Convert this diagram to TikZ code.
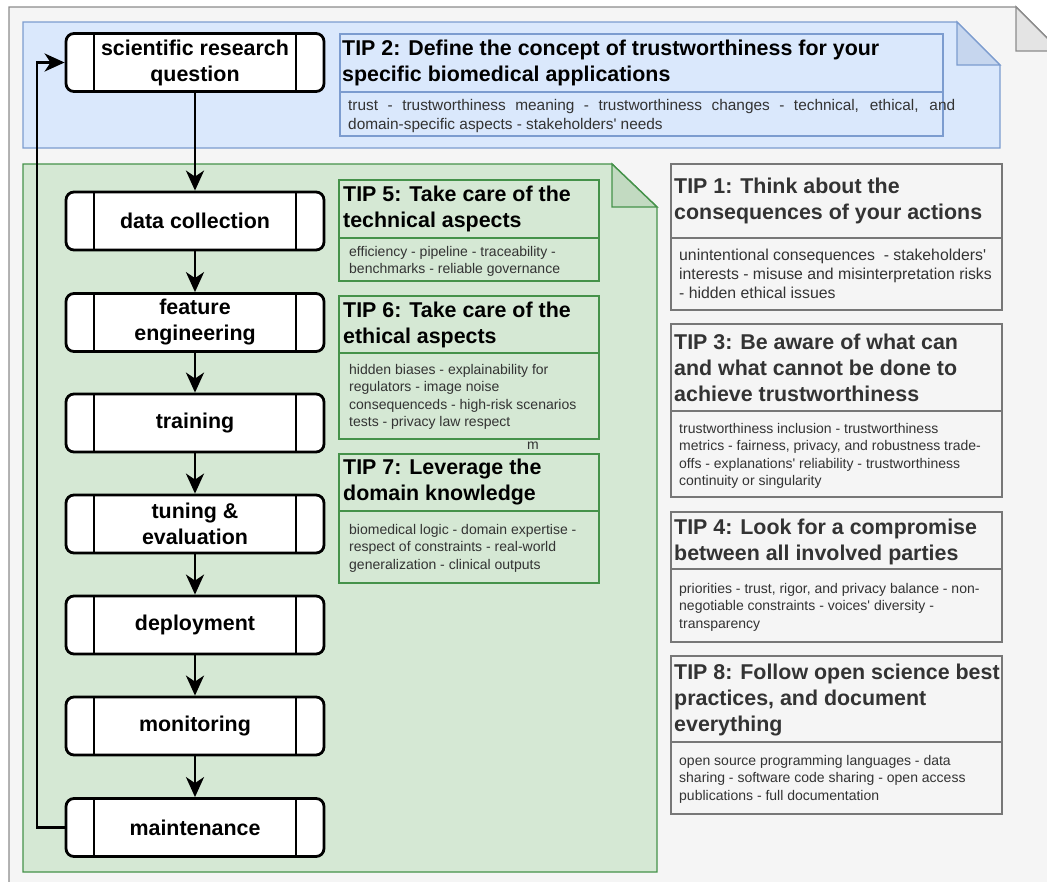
\documentclass[tikz,border=0pt]{standalone}
\usepackage{fontspec}
\setmainfont{Liberation Sans}
\usetikzlibrary{arrows.meta}

\definecolor{pagebg}{HTML}{F5F5F5}
\definecolor{pageline}{HTML}{8C8C8C}
\definecolor{pagefold}{HTML}{E4E4E4}
\definecolor{bluebg}{HTML}{DAE8FC}
\definecolor{blueline}{HTML}{7C9CCF}
\definecolor{bluefold}{HTML}{C6D6EE}
\definecolor{greenbg}{HTML}{D5E8D4}
\definecolor{greenline}{HTML}{45924A}
\definecolor{greenfold}{HTML}{C2DAC1}
\definecolor{tipgrey}{HTML}{777777}
\definecolor{tiptext}{HTML}{333333}

\newcommand{\titlefont}{\fontsize{21.4}{26}\selectfont\bfseries}
\newcommand{\bodyfont}{\fontsize{14}{17.5}\selectfont}

\begin{document}
\begin{tikzpicture}[
    x=1pt, y=-1pt,
    flowbox/.style={draw, line width=2.8pt, rounded corners=8pt, fill=white,
        minimum width=258pt, minimum height=58pt, inner sep=0pt, align=center,
        font=\titlefont, text=black,
        path picture={
            \draw[line width=2.8pt] ([xshift=28pt]path picture bounding box.north west) -- ([xshift=28pt]path picture bounding box.south west);
            \draw[line width=2.8pt] ([xshift=-28pt]path picture bounding box.north east) -- ([xshift=-28pt]path picture bounding box.south east);
        }},
    flowarrow/.style={-{Stealth[length=20pt, width=18pt, inset=6pt]}, line width=2.8pt},
    greytip/.style={draw=tipgrey, line width=1.6pt},
    greentip/.style={draw=greenline, line width=1.6pt},
    bluetip/.style={draw=blueline, line width=1.6pt},
    tiptitle/.style={anchor=west, align=left, inner sep=0pt, font=\titlefont},
    tipbody/.style={anchor=north west, align=left, inner sep=0pt, font=\bodyfont, text=tiptext}
]

\useasboundingbox (0,0) rectangle (1047,881);
\fill[white] (0,0) rectangle (1047,881);

% Sheets
\draw[pageline, fill=pagebg, line width=1.4pt] (9,7) -- (1016,7) -- (1060,51) -- (1060,900) -- (9,900) -- cycle;
\draw[pageline, fill=pagefold, line width=1.4pt] (1016,7) -- (1016,51) -- (1060,51) -- cycle;

\draw[blueline, fill=bluebg, line width=1.4pt] (23,22) -- (957,22) -- (1000,65) -- (1000,148) -- (23,148) -- cycle;
\draw[blueline, fill=bluefold, line width=1.4pt] (957,22) -- (957,65) -- (1000,65) -- cycle;

\draw[greenline, fill=greenbg, line width=1.4pt] (23,164) -- (612,164) -- (657,207) -- (657,872) -- (23,872) -- cycle;
\draw[greenline, fill=greenfold, line width=1.4pt] (612,164) -- (612,207) -- (657,207) -- cycle;

% Pipeline
\node[flowbox] (sci) at (195,62.5) {scientific research\\question};
\node[flowbox] (data) at (195,221) {data collection};
\node[flowbox] (feat) at (195,322.5) {feature\\engineering};
\node[flowbox] (train) at (195,423) {training};
\node[flowbox] (tune) at (195,524) {tuning \&\\evaluation};
\node[flowbox] (deploy) at (195,625) {deployment};
\node[flowbox] (monitor) at (195,726) {monitoring};
\node[flowbox] (maint) at (195,827.5) {maintenance};

\draw[flowarrow] (sci) -- (data);
\draw[flowarrow] (data) -- (feat);
\draw[flowarrow] (feat) -- (train);
\draw[flowarrow] (train) -- (tune);
\draw[flowarrow] (tune) -- (deploy);
\draw[flowarrow] (deploy) -- (monitor);
\draw[flowarrow] (monitor) -- (maint);

% Loop back
\coordinate (loopcorner) at (37,827.5);
\draw[flowarrow] (maint.west) -- (loopcorner) |- (sci.west);

% TIP 2
\draw[bluetip] (340,34) rectangle (943,136);
\draw[bluetip] (340,92) -- (943,92);
\node[tiptitle] (tip2) at (342,63) {TIP 2: Define the concept of trustworthiness for your\\specific biomedical applications};
\node[tipbody, font=\fontsize{15.4}{19}\selectfont] (tip2body) at (348,99) {\makebox[607pt][s]{trust - trustworthiness meaning - trustworthiness changes - technical, ethical, and}\\domain-specific aspects - stakeholders\textquotesingle{} needs};

% TIP 5
\draw[greentip] (339,180) rectangle (599,281);
\draw[greentip] (339,238) -- (599,238);
\node[tiptitle] (tip5) at (343,209) {TIP 5: Take care of the\\technical aspects};
\node[tipbody] (tip5body) at (349,246) {efficiency - pipeline - traceability -\\benchmarks - reliable governance};

% TIP 6
\draw[greentip] (339,296) rectangle (599,439);
\draw[greentip] (339,353) -- (599,353);
\node[tiptitle] (tip6) at (343,324.5) {TIP 6: Take care of the\\ethical aspects};
\node[tipbody] (tip6body) at (349,364) {hidden biases - explainability for\\regulators - image noise\\consequenceds - high-risk scenarios\\tests - privacy law respect};

\node[font=\bodyfont, text=tiptext, inner sep=0pt] (stray) at (533,446) {m};

% TIP 7
\draw[greentip] (339,454) rectangle (599,583);
\draw[greentip] (339,511) -- (599,511);
\node[tiptitle] (tip7) at (343,482.5) {TIP 7: Leverage the\\domain knowledge};
\node[tipbody] (tip7body) at (349,524) {biomedical logic - domain expertise -\\respect of constraints - real-world\\generalization - clinical outputs};

% TIP 1
\draw[greytip] (671,164) rectangle (1002,310);
\draw[greytip] (671,238) -- (1002,238);
\node[tiptitle, text=tiptext] (tip1) at (674,201) {TIP 1: Think about the\\consequences of your actions};
\node[tipbody, font=\fontsize{15.8}{19}\selectfont] (tip1body) at (679,248.5) {unintentional consequences\ \ - stakeholders\textquotesingle\\interests - misuse and misinterpretation risks\\- hidden ethical issues};

% TIP 3
\draw[greytip] (671,324) rectangle (1002,497);
\draw[greytip] (671,411) -- (1002,411);
\node[tiptitle, text=tiptext] (tip3) at (674,367.5) {TIP 3: Be aware of what can\\and what cannot be done to\\achieve trustworthiness};
\node[tipbody] (tip3body) at (679,423) {trustworthiness inclusion - trustworthiness\\metrics - fairness, privacy, and robustness trade-\\offs - explanations\textquotesingle{} reliability - trustworthiness\\continuity or singularity};

% TIP 4
\draw[greytip] (671,512) rectangle (1002,642);
\draw[greytip] (671,569) -- (1002,569);
\node[tiptitle, text=tiptext] (tip4) at (674,541.5) {TIP 4: Look for a compromise\\between all involved parties};
\node[tipbody] (tip4body) at (679,583) {priorities - trust, rigor, and privacy balance - non-\\negotiable constraints - voices\textquotesingle{} diversity -\\transparency};

% TIP 8
\draw[greytip] (671,656) rectangle (1002,814);
\draw[greytip] (671,742) -- (1002,742);
\node[tiptitle, text=tiptext] (tip8) at (674,700) {TIP 8: Follow open science best\\practices, and document\\everything};
\node[tipbody] (tip8body) at (679,755) {open source programming languages - data\\sharing - software code sharing - open access\\publications - full documentation};

\end{tikzpicture}
\end{document}
